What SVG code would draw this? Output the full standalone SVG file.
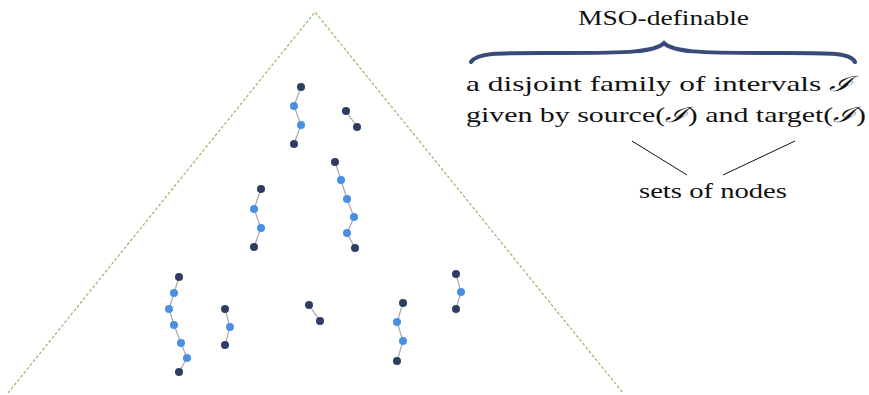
<svg xmlns="http://www.w3.org/2000/svg" width="869" height="395" viewBox="0 0 869 395">
<style>
.d{fill:#2f3d66}
.l{fill:#4a90e2}
.e{stroke:#a8a8a8;stroke-width:1.2;fill:none}
</style>
<rect width="869" height="395" fill="#fff"/>
<polyline id="tree" points="8,393 315,12 623,393" fill="none" stroke="#80b95c" stroke-width="1.1" stroke-dasharray="3,2"/>
<g id="connectors">
<polyline class="e" points="301,87 294,106 301,125 294,144"/>
<polyline class="e" points="346,111 357,127"/>
<polyline class="e" points="335,162 341,180 347,199 354,217 347,233 355,248"/>
<polyline class="e" points="261,189 254,209 261,228 254,247"/>
<polyline class="e" points="179,277 174,293 169,309 174,325 181,343 187,358 179,372"/>
<polyline class="e" points="225,309 230,327 225,345"/>
<polyline class="e" points="309,305 320,321"/>
<polyline class="e" points="403,303 397,322 403,341 397,361"/>
<polyline class="e" points="456,274 461,292 456,309"/>
<path d="M471,62 C478,52 500,53 560,53 C630,53 655,52 664,43 C673,52 698,53 768,53 C828,53 850,52 855,62" fill="none" stroke="#374a7a" stroke-width="4" stroke-linecap="round"/>
<line x1="632" y1="141" x2="687" y2="175" stroke="#111" stroke-width="1"/>
<line x1="795" y1="141" x2="723" y2="175" stroke="#111" stroke-width="1"/>
</g>
<g id="chain1"><circle class="d" cx="301" cy="87" r="4"/><circle class="l" cx="294" cy="106" r="4"/><circle class="l" cx="301" cy="125" r="4"/><circle class="d" cx="294" cy="144" r="4"/></g>
<g id="chain2"><circle class="d" cx="346" cy="111" r="4"/><circle class="d" cx="357" cy="127" r="4"/></g>
<g id="chain3"><circle class="d" cx="335" cy="162" r="4"/><circle class="l" cx="341" cy="180" r="4"/><circle class="l" cx="347" cy="199" r="4"/><circle class="l" cx="354" cy="217" r="4"/><circle class="l" cx="347" cy="233" r="4"/><circle class="d" cx="355" cy="248" r="4"/></g>
<g id="chain4"><circle class="d" cx="261" cy="189" r="4"/><circle class="l" cx="254" cy="209" r="4"/><circle class="l" cx="261" cy="228" r="4"/><circle class="d" cx="254" cy="247" r="4"/></g>
<g id="chain5"><circle class="d" cx="179" cy="277" r="4"/><circle class="l" cx="174" cy="293" r="4"/><circle class="l" cx="169" cy="309" r="4"/><circle class="l" cx="174" cy="325" r="4"/><circle class="l" cx="181" cy="343" r="4"/><circle class="l" cx="187" cy="358" r="4"/><circle class="d" cx="179" cy="372" r="4"/></g>
<g id="chain6"><circle class="d" cx="225" cy="309" r="4"/><circle class="l" cx="230" cy="327" r="4"/><circle class="d" cx="225" cy="345" r="4"/></g>
<g id="chain7"><circle class="d" cx="309" cy="305" r="4"/><circle class="d" cx="320" cy="321" r="4"/></g>
<g id="chain8"><circle class="d" cx="403" cy="303" r="4"/><circle class="l" cx="397" cy="322" r="4"/><circle class="l" cx="403" cy="341" r="4"/><circle class="d" cx="397" cy="361" r="4"/></g>
<g id="chain9"><circle class="d" cx="456" cy="274" r="4"/><circle class="l" cx="461" cy="292" r="4"/><circle class="d" cx="456" cy="309" r="4"/></g>
<g font-family="Liberation Serif, DejaVu Serif, serif" font-size="21" fill="#111">
<g id="label-mso"><text x="578" y="25" textLength="171" lengthAdjust="spacingAndGlyphs">MSO-definable</text></g>
<g id="label-family"><text x="466" y="91" textLength="387" lengthAdjust="spacingAndGlyphs">a disjoint family of intervals <tspan font-style="italic">ℐ</tspan></text>
<text x="466" y="122" textLength="400" lengthAdjust="spacingAndGlyphs">given by source(<tspan font-style="italic">ℐ</tspan>) and target(<tspan font-style="italic">ℐ</tspan>)</text></g>
<g id="label-sets"><text x="639" y="198" textLength="148" lengthAdjust="spacingAndGlyphs">sets of nodes</text></g>
</g>
</svg>
